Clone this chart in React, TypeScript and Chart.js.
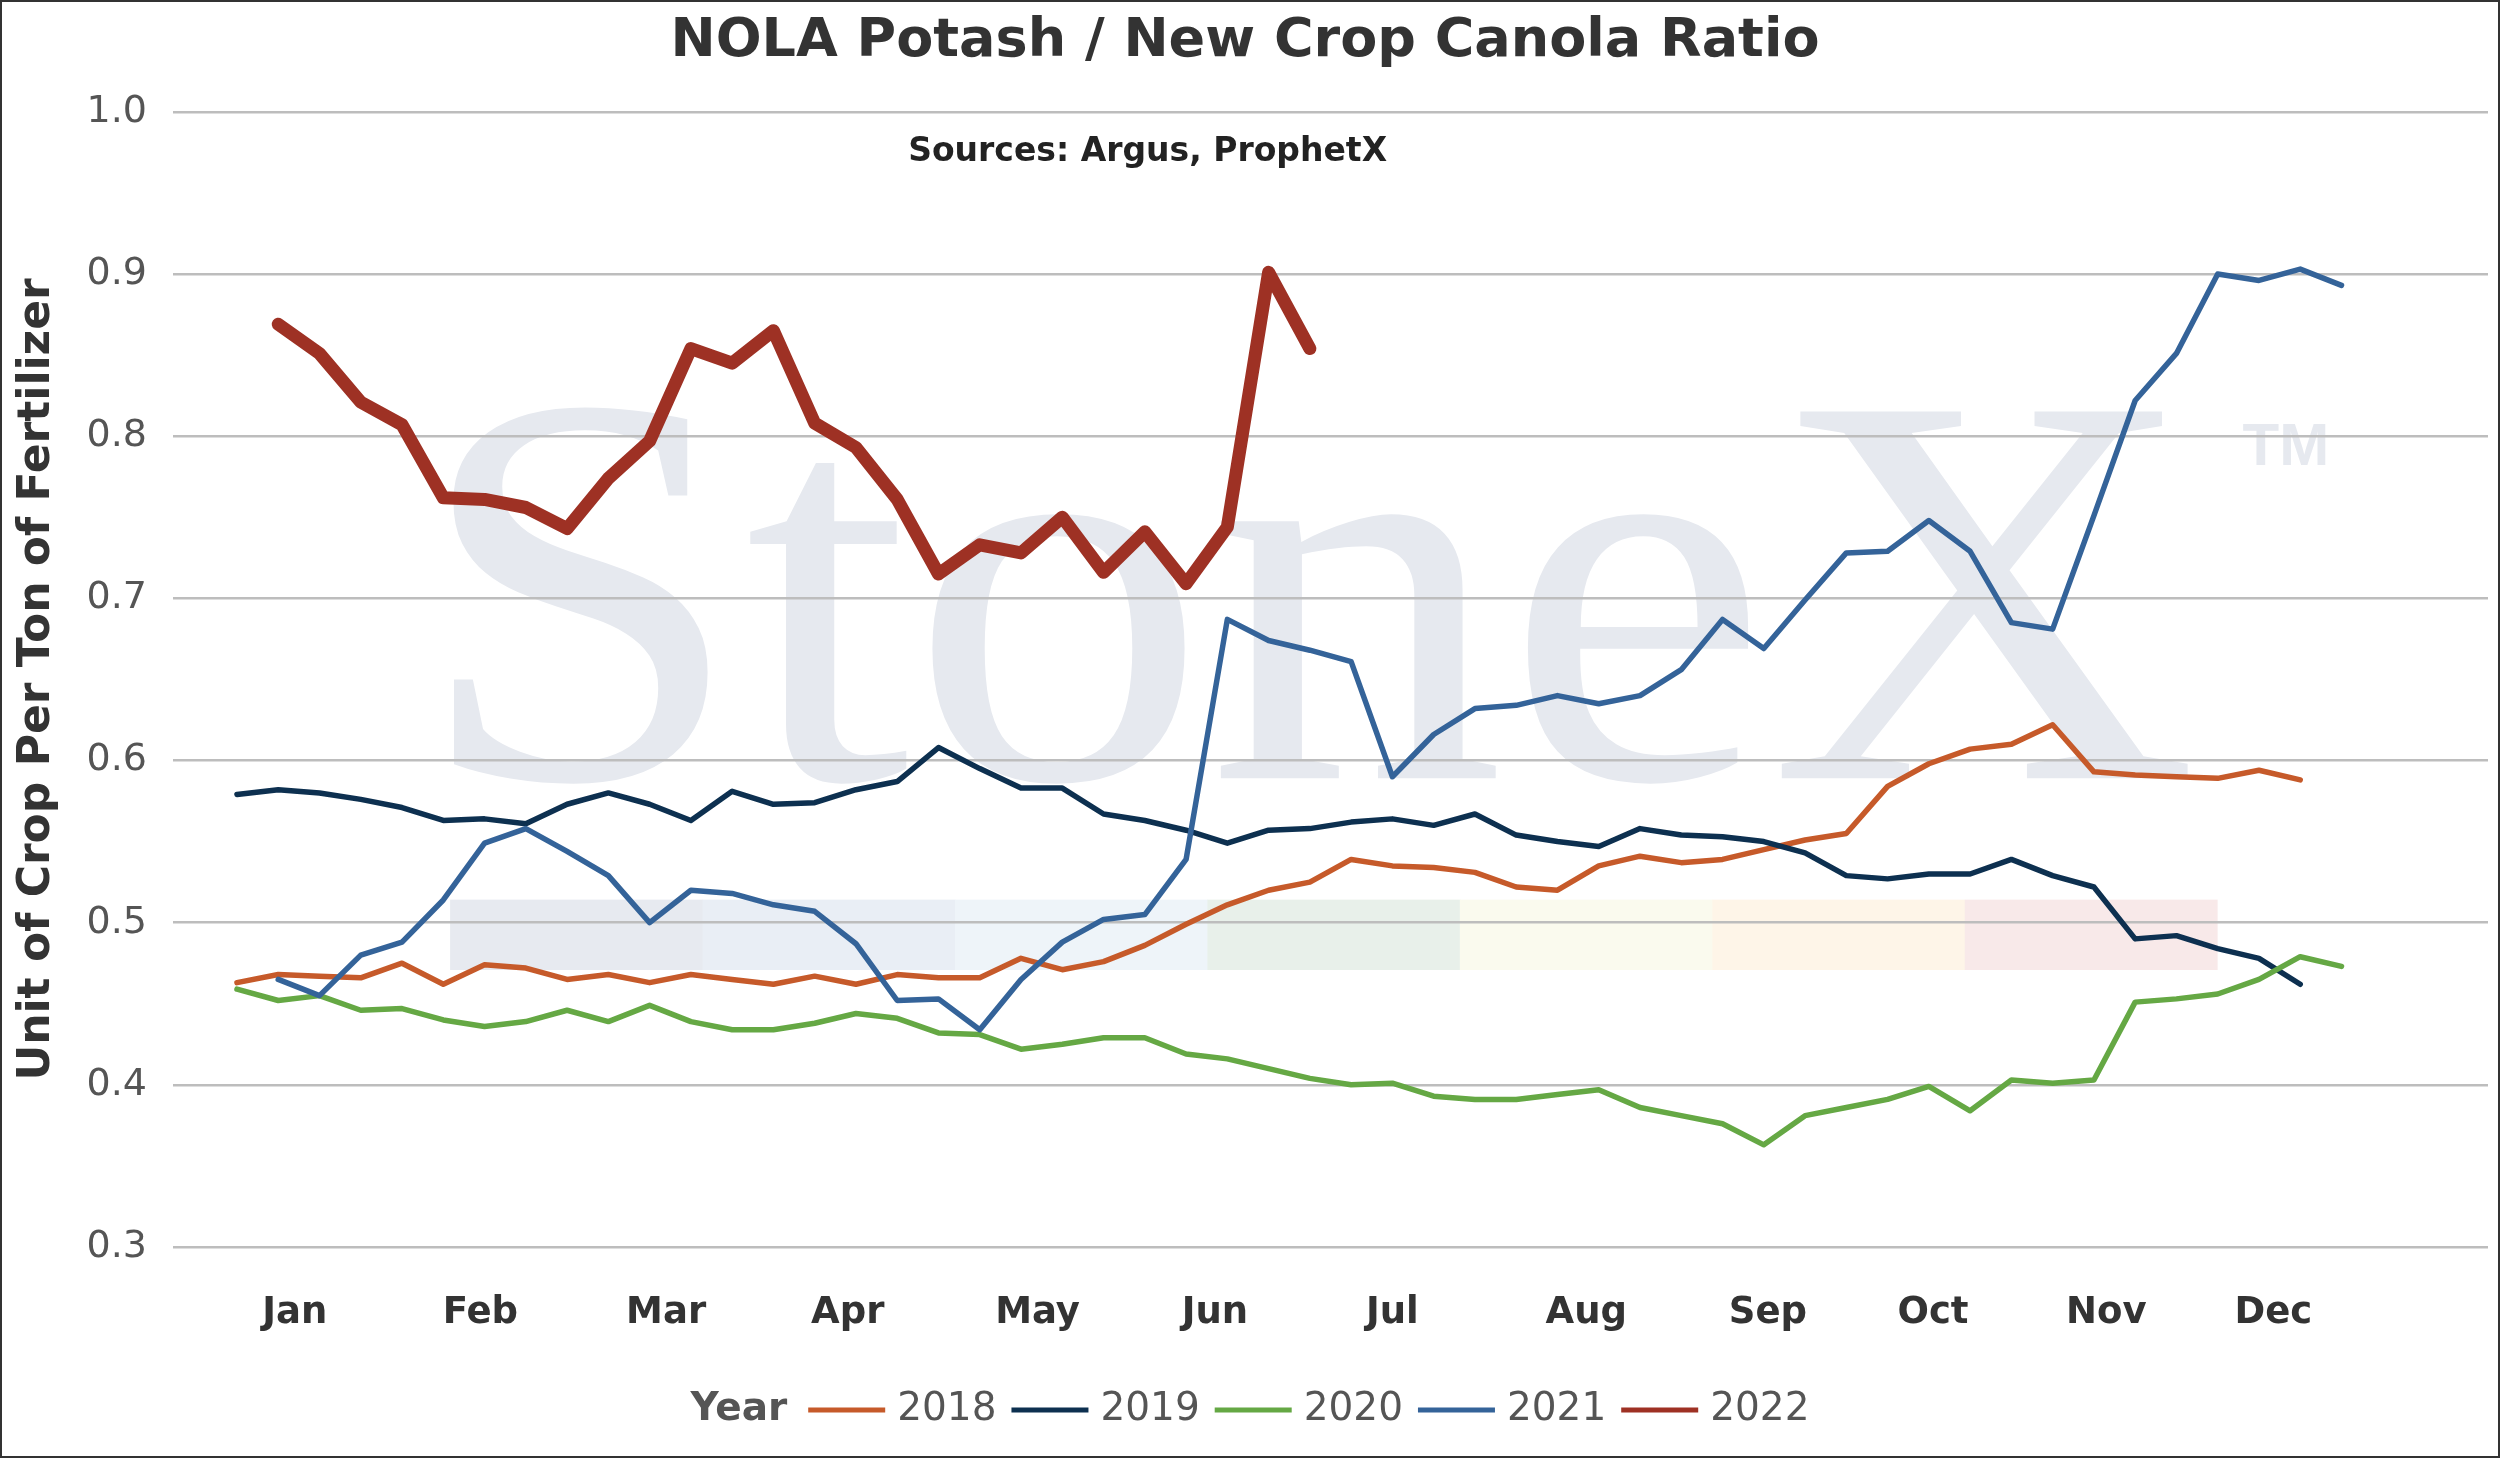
import { useEffect, useRef } from 'react';
import { Chart, registerables } from 'chart.js';

Chart.register(...registerables);

// weekly points, x = week index
const weeks = Array.from({ length: 52 }, (_, i) => i);

const months = ['Jan', 'Feb', 'Mar', 'Apr', 'May', 'Jun', 'Jul', 'Aug', 'Sep', 'Oct', 'Nov', 'Dec'];
const monthTicks = [1.4, 5.9, 10.4, 14.8, 19.4, 23.7, 28.0, 32.7, 37.1, 41.1, 45.3, 49.35];

const years = ['2018', '2019', '2020', '2021', '2022'];

const s2018 = [
  0.463, 0.468, 0.467, 0.466, 0.475, 0.462, 0.474, 0.472, 0.465, 0.468, 0.463, 0.468, 0.465, 0.462, 0.467,
  0.462, 0.468, 0.466, 0.466, 0.478, 0.471, 0.476, 0.486, 0.499, 0.511, 0.520, 0.525, 0.539, 0.535,
  0.534, 0.531, 0.522, 0.520, 0.535, 0.541, 0.537, 0.539, 0.545, 0.551, 0.555, 0.584, 0.598, 0.607,
  0.610, 0.622, 0.593, 0.591, 0.590, 0.589, 0.594, 0.588,
];

const s2019 = [
  0.579, 0.582, 0.580, 0.576, 0.571, 0.563, 0.564, 0.561, 0.573, 0.580, 0.573, 0.563, 0.581, 0.573, 0.574,
  0.582, 0.587, 0.608, 0.595, 0.583, 0.583, 0.567, 0.563, 0.557, 0.549, 0.557, 0.558, 0.562, 0.564,
  0.560, 0.567, 0.554, 0.550, 0.547, 0.558, 0.554, 0.553, 0.550, 0.543, 0.529, 0.527, 0.530, 0.530,
  0.539, 0.529, 0.522, 0.490, 0.492, 0.484, 0.478, 0.462,
];

const s2020 = [
  0.459, 0.452, 0.455, 0.446, 0.447, 0.440, 0.436, 0.439, 0.446, 0.439, 0.449, 0.439, 0.434, 0.434, 0.438,
  0.444, 0.441, 0.432, 0.431, 0.422, 0.425, 0.429, 0.429, 0.419, 0.416, 0.410, 0.404, 0.400, 0.401,
  0.393, 0.391, 0.391, 0.394, 0.397, 0.386, 0.381, 0.376, 0.363, 0.381, 0.386, 0.391, 0.399, 0.384,
  0.403, 0.401, 0.403, 0.451, 0.453, 0.456, 0.465, 0.479, 0.473,
];

const s2021 = [
  null, 0.465, 0.455, 0.480, 0.488, 0.514, 0.549, 0.558, 0.544, 0.529, 0.500, 0.520, 0.518, 0.511, 0.507,
  0.487, 0.452, 0.453, 0.434, 0.465, 0.488, 0.502, 0.505, 0.539, 0.687, 0.674, 0.668, 0.661, 0.590,
  0.616, 0.632, 0.634, 0.640, 0.635, 0.640, 0.656, 0.687, 0.669, 0.699, 0.728, 0.729, 0.748, 0.729,
  0.685, 0.681, 0.751, 0.822, 0.851, 0.900, 0.896, 0.903, 0.893,
];

const s2022 = [
  null, 0.869, 0.851, 0.821, 0.807, 0.762, 0.761, 0.756, 0.743, 0.774, 0.797, 0.854, 0.845, 0.865, 0.808,
  0.793, 0.761, 0.715, 0.733, 0.728, 0.750, 0.716, 0.741, 0.709, 0.744, 0.901, 0.854,
];

const series = [s2018, s2019, s2020, s2021, s2022];
const colors = ['#C65A2A', '#0D3050', '#65A844', '#346399', '#9E3124'];
const bandColors = ['#E7EAF0', '#E9EEF5', '#EEF4F9', '#E8F0EA', '#FAFAEE', '#FEF5E8', '#F8E9E9'];

const FONT = '"DejaVu Sans", Verdana, sans-serif';

// StoneX watermark, colour bar and the sources note, under the grid
const backdrop = {
  id: 'backdrop',
  beforeDraw(chart: any) {
    const { ctx, chartArea: a } = chart;
    const w = a.right - a.left;
    const h = a.bottom - a.top;
    ctx.save();

    const bx0 = a.left + 0.1197 * w;
    const bx1 = a.left + 0.883 * w;
    const seg = (bx1 - bx0) / bandColors.length;
    bandColors.forEach((c, i) => {
      ctx.fillStyle = c;
      ctx.fillRect(bx0 + i * seg, a.top + 0.694 * h, seg + 0.5, 0.062 * h);
    });

    ctx.fillStyle = '#E6E9EF';
    ctx.font = '560px "Liberation Serif", serif';
    ctx.textBaseline = 'alphabetic';
    ctx.textAlign = 'left';
    const m = ctx.measureText('StoneX');
    const inkW = m.actualBoundingBoxLeft + m.actualBoundingBoxRight;
    const sx = (0.754 * w) / inkW;
    ctx.save();
    ctx.translate(a.left + 0.12 * w + m.actualBoundingBoxLeft * sx, a.top + 0.587 * h);
    ctx.scale(sx, 1);
    ctx.fillText('StoneX', 0, 0);
    ctx.restore();

    ctx.font = 'bold 60px "Liberation Sans", Arial, sans-serif';
    ctx.fillText('TM', a.left + 0.894 * w, a.top + 0.311 * h);

    ctx.fillStyle = '#222';
    ctx.font = `bold 33px ${FONT}`;
    ctx.textAlign = 'center';
    ctx.textBaseline = 'middle';
    ctx.fillText('Sources: Argus, ProphetX', a.left + 0.421 * w, a.top + 0.036 * h);
    ctx.restore();
  },
};

// legend with a leading "Year" caption
const yearLegend = {
  id: 'yearLegend',
  afterDraw(chart: any) {
    const { ctx } = chart;
    const ds = chart.data.datasets;
    const y = chart.height - 46;
    const swatch = 77;
    ctx.save();
    ctx.textBaseline = 'middle';
    ctx.textAlign = 'left';
    ctx.font = `bold 39px ${FONT}`;
    const capW = ctx.measureText('Year').width;
    ctx.font = `39px ${FONT}`;
    const widths = ds.map((d: any) => ctx.measureText(d.label).width);
    const total =
      capW + ds.reduce((s: number, _d: any, i: number) => s + (i === 0 ? 21 : 15) + swatch + 12 + widths[i], 0);
    let x = chart.width / 2 - total / 2;

    ctx.fillStyle = '#555';
    ctx.font = `bold 39px ${FONT}`;
    ctx.fillText('Year', x, y);
    x += capW;
    ctx.font = `39px ${FONT}`;
    ds.forEach((d: any, i: number) => {
      x += i === 0 ? 21 : 15;
      ctx.strokeStyle = d.borderColor;
      ctx.lineWidth = 5;
      ctx.beginPath();
      ctx.moveTo(x, y);
      ctx.lineTo(x + swatch, y);
      ctx.stroke();
      x += swatch + 12;
      ctx.fillStyle = '#555';
      ctx.fillText(d.label, x, y);
      x += widths[i];
    });
    ctx.restore();
  },
};

export default function App() {
  const canvasRef = useRef<HTMLCanvasElement>(null);
  const chartRef = useRef<Chart | null>(null);

  useEffect(() => {
    if (!canvasRef.current) return;
    const ctx = canvasRef.current.getContext('2d');
    if (!ctx) return;

    if (chartRef.current) {
      chartRef.current.destroy();
      chartRef.current = null;
    }

    Chart.defaults.font.family = FONT;

    chartRef.current = new Chart(ctx, {
      type: 'line',
      data: {
        labels: weeks,
        datasets: years.map((label, i) => ({
          label,
          data: series[i],
          borderColor: colors[i],
          backgroundColor: colors[i],
          borderWidth: label === '2022' ? 13 : 5.5,
          borderCapStyle: 'round',
          borderJoinStyle: 'round',
          pointRadius: 0,
          tension: 0,
          fill: false,
          order: years.length - 1 - i,
        })),
      },
      plugins: [backdrop, yearLegend],
      options: {
        responsive: true,
        maintainAspectRatio: false,
        animation: false,
        layout: { padding: { top: 0, left: 0, right: 10, bottom: 114 } },
        plugins: {
          legend: { display: false },
          tooltip: { enabled: false },
          title: {
            display: true,
            text: 'NOLA Potash / New Crop Canola Ratio',
            color: '#333',
            font: { size: 54, weight: 'bold' },
            padding: { top: 8, bottom: 37 },
          },
        },
        scales: {
          x: {
            type: 'linear',
            min: -1.55,
            max: 54.55,
            grid: { display: false, drawTicks: false },
            border: { display: false },
            afterBuildTicks: (scale: any) => {
              scale.ticks = monthTicks.map((v) => ({ value: v }));
            },
            afterFit: (scale: any) => {
              scale.height = 95;
            },
            ticks: {
              autoSkip: false,
              maxRotation: 0,
              padding: 44,
              color: '#333',
              font: { size: 37, weight: 'bold' },
              callback: (_v: any, i: number) => months[i],
            },
          },
          y: {
            min: 0.3,
            max: 1.0,
            grid: { color: '#BDBDBD', lineWidth: 2.5, drawTicks: false },
            border: { display: false },
            afterFit: (scale: any) => {
              scale.width = 171;
            },
            ticks: {
              stepSize: 0.1,
              padding: 26,
              color: '#555',
              font: { size: 38 },
              callback: (v: any) => Number(v).toFixed(1),
            },
            title: {
              display: true,
              text: 'Unit of Crop Per Ton of Fertilizer',
              color: '#333',
              font: { size: 44, weight: 'bold' },
              padding: { top: 9, bottom: 0 },
            },
          },
        },
      },
    });

    return () => {
      if (chartRef.current) {
        chartRef.current.destroy();
        chartRef.current = null;
      }
    };
  }, []);

  return (
    <div
      style={{
        position: 'absolute',
        left: 0,
        top: 0,
        width: 2500,
        height: 1458,
        border: '2px solid #333',
        boxSizing: 'border-box',
        background: '#fff',
      }}
    >
      <div style={{ position: 'relative', width: '100%', height: '100%' }}>
        <canvas ref={canvasRef}></canvas>
      </div>
    </div>
  );
}
